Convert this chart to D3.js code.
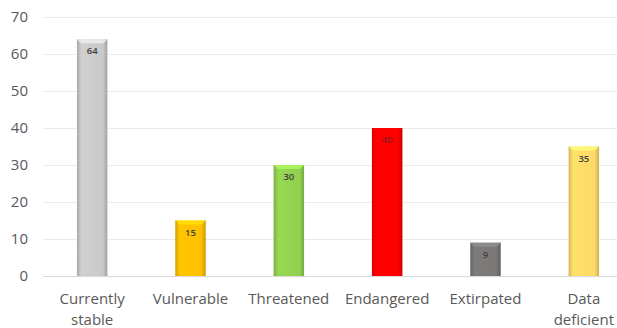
<!DOCTYPE html>
<html>
<head>
<meta charset="utf-8">
<script src="https://cdn.jsdelivr.net/npm/d3@7"></script>
<style>
  body { margin: 0; background: #fff; }
  svg text { font-family: "Open Sans", "Liberation Sans", sans-serif; }
</style>
</head>
<body>
<div id="chart"></div>
<script>
// chart data
const categories = ["Currently\nstable", "Vulnerable", "Threatened", "Endangered", "Extirpated", "Data\ndeficient"];
const values = [64, 15, 30, 40, 9, 35];
const barColors = ["#c9c9c9", "#ffc000", "#92d050", "#ff0000", "#7a7777", "#ffd966"];
const yTicks = [0, 10, 20, 30, 40, 50, 60, 70];

drawChart();

function drawChart() {
    let width = 617, height = 328;
    let svg = d3.select("#chart").append("svg")
        .attr("width", width).attr("height", height);

    let x = d3.scaleBand().domain(categories).range([43, 633]).paddingInner(0.69).paddingOuter(0.345);
    let y = d3.scaleLinear().domain([0, 70]).range([276, 17]);

    // gradients for the bevel look
    let defs = svg.append("defs");
    barColors.forEach(function(c, i) {
        let g = defs.append("linearGradient").attr("id", "grad" + i)
            .attr("x1", "0").attr("x2", "1").attr("y1", "0").attr("y2", "0");
        let base = d3.color(c);
        g.append("stop").attr("offset", "0").attr("stop-color", base.darker(0.5));
        g.append("stop").attr("offset", "0.15").attr("stop-color", base.brighter(0.1));
        g.append("stop").attr("offset", "0.85").attr("stop-color", base);
        g.append("stop").attr("offset", "1").attr("stop-color", base.darker(0.6));
    });

    // gridlines
    svg.append("g").selectAll("line").data(yTicks).enter().append("line")
        .attr("x1", 43).attr("x2", width)
        .attr("y1", d => Math.round(y(d)) + 0.5).attr("y2", d => Math.round(y(d)) + 0.5)
        .attr("stroke", d => d === 0 ? "#d9d9d9" : "#ebebeb").attr("stroke-width", 1);

    // y labels
    svg.append("g").selectAll("text").data(yTicks).enter().append("text")
        .attr("x", 28).attr("y", d => y(d) + 5)
        .attr("text-anchor", "end").attr("font-size", 15).attr("fill", "#595959")
        .text(d => d);

    // bars
    let bars = svg.append("g").selectAll("g").data(values).enter().append("g");
    bars.append("rect")
        .attr("x", (d, i) => x(categories[i]))
        .attr("y", d => y(d))
        .attr("width", x.bandwidth())
        .attr("height", d => y(0) - y(d))
        .attr("fill", (d, i) => "url(#grad" + i + ")");
    // top bevel
    bars.append("path")
        .attr("d", function(d, i) {
            let x0 = x(categories[i]), x1 = x0 + x.bandwidth(), t = y(d), b = 4;
            return "M" + x0 + "," + t + "L" + x1 + "," + t + "L" + (x1 - b) + "," + (t + b) + "L" + (x0 + b) + "," + (t + b) + "Z";
        })
        .attr("fill", (d, i) => d3.color(barColors[i]).brighter(0.5))
        .attr("opacity", 0.8);

    // data labels
    bars.append("text")
        .attr("x", (d, i) => x(categories[i]) + x.bandwidth() / 2)
        .attr("y", d => y(d) + 15)
        .attr("text-anchor", "middle").attr("font-size", 9.5).attr("font-weight", 600)
        .attr("fill", (d, i) => i === 3 ? "#8b1a1a" : "#404040")
        .text(d => d);

    // category labels
    let cats = svg.append("g").selectAll("text").data(categories).enter().append("text")
        .attr("x", d => x(d) + x.bandwidth() / 2)
        .attr("y", 304)
        .attr("text-anchor", "middle").attr("font-size", 15).attr("fill", "#595959");
    cats.each(function(d) {
        let lines = d.split("\n");
        let t = d3.select(this);
        lines.forEach(function(l, k) {
            t.append("tspan").attr("x", t.attr("x")).attr("dy", k === 0 ? 0 : 21).text(l);
        });
    });
}
</script>
</body>
</html>
